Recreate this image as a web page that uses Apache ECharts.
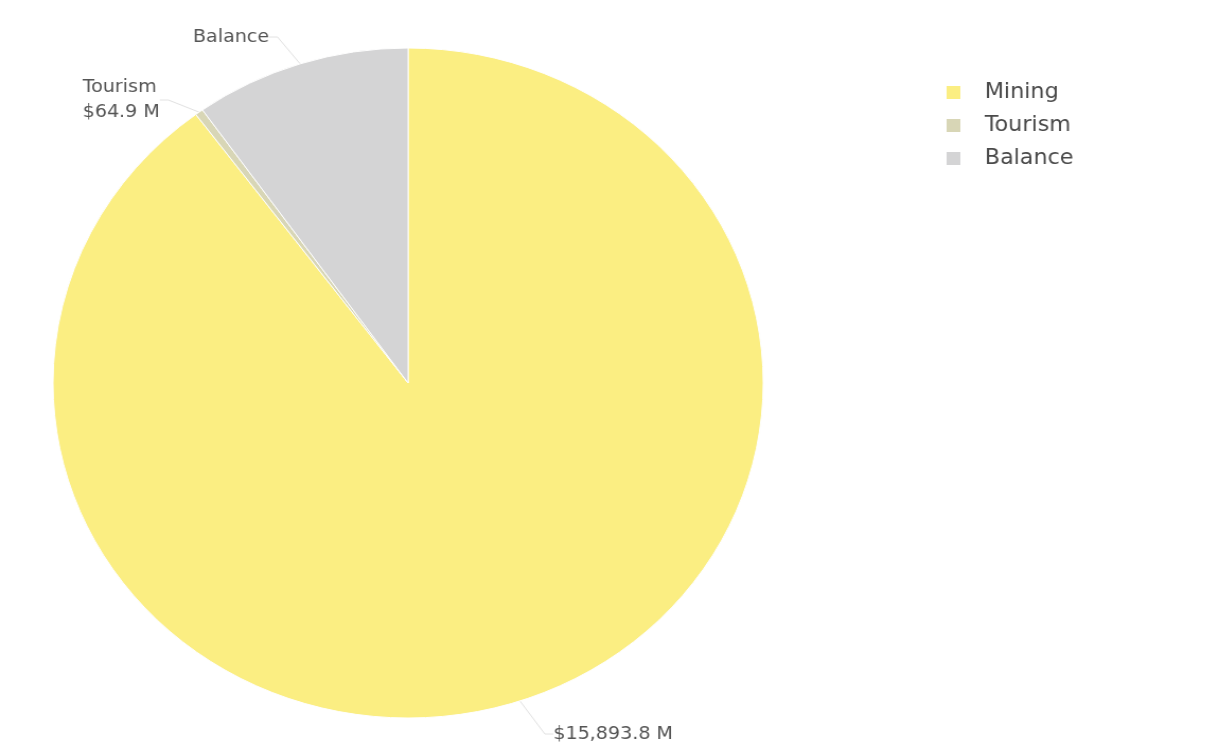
<!DOCTYPE html>
<html>
<head>
<meta charset="utf-8">
<script src="https://cdn.jsdelivr.net/npm/echarts@6/dist/echarts.min.js"></script>
<style>
  html, body { margin: 0; padding: 0; background: #fff; overflow: hidden; }
  /* chart drawn slightly narrower, then widened to fill the frame */
  #chart { width: 1151px; height: 749px; transform: scaleX(1.06); transform-origin: 0 0; }
</style>
</head>
<body>
<div id="chart"></div>
<script>
// Sector names and values (millions of dollars)
const sectors = ['Mining', 'Tourism', 'Balance'];
const values = [15893.8, 64.9, 1740];
const colors = ['#fbee82', '#d8d6b6', '#d4d4d5'];
const showValue = [true, true, false];

const fmt = v => '$' + v.toLocaleString('en-US', { minimumFractionDigits: 1, maximumFractionDigits: 1 }) + ' M';

// Where each slice label sits on the canvas
const labelSpots = [
  { x: 522, y: 734, align: 'left' },
  { x: 78, y: 100, align: 'left' },
  { x: 182, y: 37, align: 'left' }
];

const chart = echarts.init(document.getElementById('chart'));
chart.setOption({
  animation: false,
  backgroundColor: '#ffffff',
  color: colors,
  legend: {
    orient: 'vertical',
    left: 891,
    top: 82,
    padding: 0,
    itemWidth: 15,
    itemHeight: 15,
    itemGap: 12,
    icon: 'rect',
    textStyle: { fontFamily: 'DejaVu Sans', fontSize: 21, color: '#4a4a4a', padding: [0, 0, 0, 17] },
    data: sectors
  },
  series: [{
    type: 'pie',
    center: [385, 383],
    radius: 335,
    startAngle: 90,
    clockwise: true,
    data: sectors.map((n, i) => ({ name: n, value: values[i] })),
    itemStyle: { borderColor: '#ffffff', borderWidth: 1 },
    label: {
      show: true,
      fontFamily: 'DejaVu Sans',
      fontSize: 18,
      color: '#555555',
      lineHeight: 25,
      formatter: p => showValue[p.dataIndex] ? p.name === 'Mining' ? fmt(p.value) : p.name + '\n' + fmt(p.value) : p.name
    },
    labelLine: { show: true, length: 8, length2: 8, lineStyle: { color: '#e2e2e2', width: 1 } },
    labelLayout: p => {
      const s = labelSpots[p.dataIndex];
      return { x: s.x, y: s.y, align: s.align, verticalAlign: 'middle', moveOverlap: false };
    },
    emphasis: { disabled: true }
  }]
});
</script>
</body>
</html>
